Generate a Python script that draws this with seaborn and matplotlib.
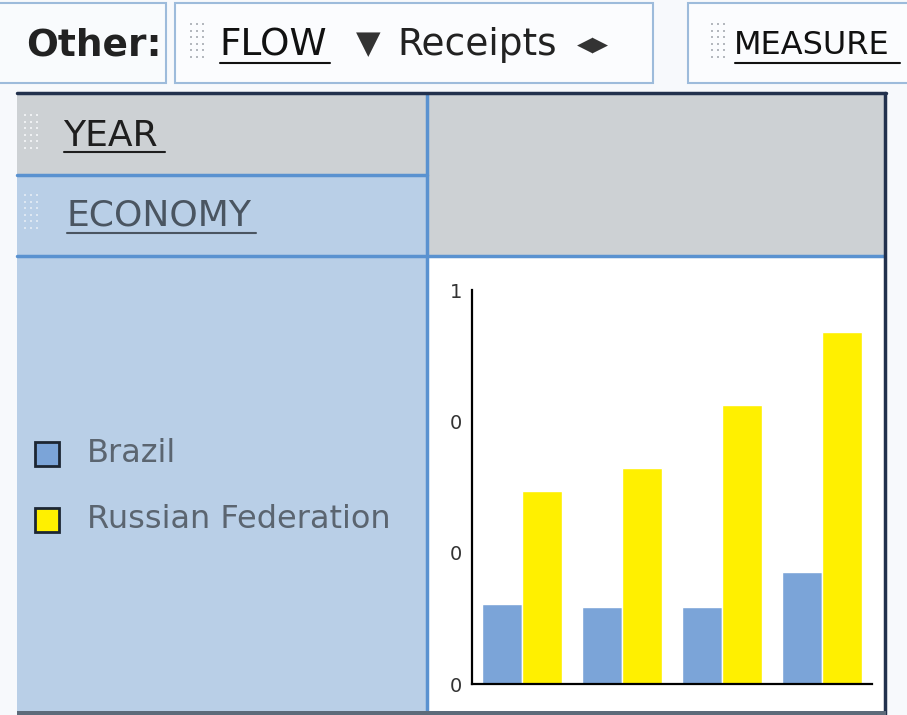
import matplotlib
matplotlib.use("Agg")
import matplotlib.pyplot as plt
from matplotlib.patches import Rectangle
import numpy as np
import pandas as pd
import seaborn as sns

# data (axis runs 0..1, tick labels are truncated to "0"/"1")
years = ["2009", "2010", "2011", "2012"]
economies = ["Brazil", "Russian Federation"]
brazil = [0.203, 0.195, 0.195, 0.284]
russia = [0.489, 0.549, 0.709, 0.894]
ytick_vals = [0, 1 / 3, 2 / 3, 1]
ytick_labels = ["0", "0", "0", "1"]

colors = {"Brazil": "#7ba4d8", "Russian Federation": "#fff000"}
panel_blue = "#b9cfe7"
panel_gray = "#cdd1d4"
line_blue = "#5a92d0"
navy = "#22314d"

df = pd.DataFrame({
    "year": years * 2,
    "economy": [economies[0]] * 4 + [economies[1]] * 4,
    "value": brazil + russia,
})

sns.set_theme(style="white")
plt.rcParams["font.family"] = ["DejaVu Sans"]

W, H = 907, 715
fig = plt.figure(figsize=(W / 100, H / 100), dpi=100)
fig.patch.set_facecolor("#f7f9fc")

# page decoration drawn in pixel coordinates
bg = fig.add_axes([0, 0, 1, 1])
bg.set_xlim(0, W)
bg.set_ylim(H, 0)
bg.axis("off")


def rect(x0, y0, x1, y1, fc, ec="none", lw=0, z=1):
    bg.add_patch(Rectangle((x0, y0), x1 - x0, y1 - y0, facecolor=fc,
                           edgecolor=ec, linewidth=lw, zorder=z))


def grip(x0, y0, color, rows=6, cols=3):
    gx, gy = np.meshgrid(x0 + np.arange(cols) * 6, y0 + np.arange(rows) * 6.5)
    bg.scatter(gx.ravel(), gy.ravel(), s=3, c=color, marker="s",
               linewidths=0, zorder=5)


cond = "DejaVu Sans Condensed"

# top toolbar
rect(-5, 3, 166, 83, "#f9fbfd", ec="#9dbbdb", lw=1.5)
rect(175, 3, 653, 83, "#fbfcfe", ec="#9dbbdb", lw=1.5)
rect(688, 3, 920, 83, "#fbfcfe", ec="#9dbbdb", lw=1.5)
bg.text(26, 45, "Other:", fontsize=27, fontweight="bold", color="#222222",
        va="center", family=cond)
grip(191, 24, "#b4b8be")
bg.text(219, 45, "FLOW", fontsize=27, color="#111111", va="center", family=cond)
bg.plot([220, 330], [63, 63], color="#111111", lw=1.5, zorder=5)
bg.text(356, 45, "\u25bc", fontsize=23, color="#333333", va="center", family=cond)
bg.text(397, 45, "Receipts", fontsize=27, color="#222222", va="center", family=cond)
bg.text(577, 45, "\u25c0\u25b6", fontsize=15, color="#333333", va="center", family=cond)
grip(712, 24, "#b4b8be")
bg.text(734, 45, "MEASURE", fontsize=23, color="#111111", va="center", family=cond)
bg.plot([735, 900], [63, 63], color="#111111", lw=1.5, zorder=5)

# pivot table frame
rect(17, 92, 886, 714, "white")
rect(17, 95, 427, 175, panel_gray)
rect(17, 175, 427, 255, panel_blue)
rect(427, 95, 885, 255, panel_gray)
rect(17, 255, 427, 712, panel_blue)
rect(429, 258, 884, 712, "white")
bg.plot([17, 427], [175, 175], color=line_blue, lw=2.5, zorder=3)
bg.plot([17, 884], [256, 256], color=line_blue, lw=2.5, zorder=3)
bg.plot([427, 427], [95, 712], color=line_blue, lw=2.5, zorder=3)
bg.plot([17, 886], [93, 93], color=navy, lw=2.5, zorder=4)
bg.plot([885, 885], [93, 714], color=navy, lw=2.5, zorder=4)
rect(17, 711, 886, 716, "#5d6b7a", z=4)

grip(25, 115, "#eef0f2")
bg.text(63, 136, "YEAR", fontsize=26, color="#1e1e1e", va="center")
bg.plot([64, 165], [152, 152], color="#1e1e1e", lw=1.5, zorder=5)
grip(25, 195, "#dde7f2")
bg.text(66, 216, "ECONOMY", fontsize=26, color="#4a5561", va="center")
bg.plot([67, 256], [233, 233], color="#4a5561", lw=1.5, zorder=5)

# legend in the row header panel
for name, yc in zip(economies, [454, 520]):
    rect(35, yc - 12, 59, yc + 12, colors[name], ec="#1c2633", lw=2, z=5)
    bg.text(87, yc, name, fontsize=23, color="#5b6570", va="center")

# the chart itself
ax = fig.add_axes([472 / W, 31 / H, 400 / W, 394 / H])
ax.set_facecolor("none")
sns.barplot(data=df, x="year", y="value", hue="economy", palette=colors,
            width=0.8, saturation=1, legend=False, ax=ax)
ax.set_xlim(-0.5, 3.5)
ax.set_ylim(0, 1)
ax.set_yticks(ytick_vals)
ax.set_yticklabels(ytick_labels)
ax.set_xticks([])
ax.set_xlabel("")
ax.set_ylabel("")
ax.tick_params(axis="y", length=0, labelsize=14, labelcolor="#333333", pad=7)
for side in ["top", "right"]:
    ax.spines[side].set_visible(False)
for side in ["left", "bottom"]:
    ax.spines[side].set_color("black")
    ax.spines[side].set_linewidth(1.6)

fig.savefig("out.png", dpi=100, facecolor=fig.get_facecolor())
